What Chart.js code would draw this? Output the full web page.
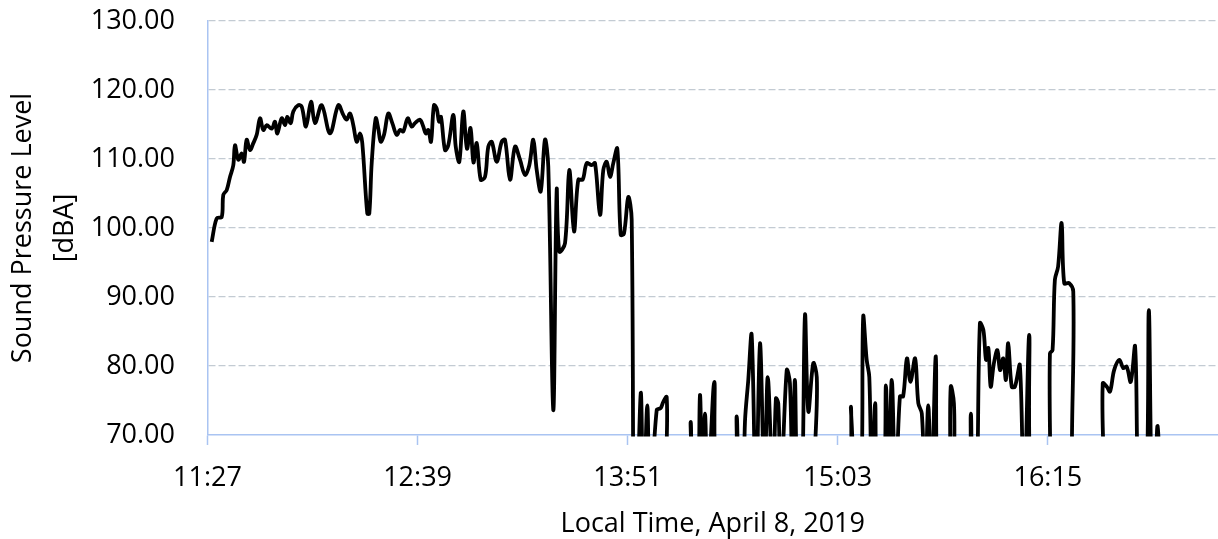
<!DOCTYPE html>
<html>
<head>
<meta charset="utf-8">
<script src="https://cdn.jsdelivr.net/npm/chart.js@4/dist/chart.umd.min.js"></script>
<style>
  html, body { margin: 0; padding: 0; background: #fff; }
  #wrap { width: 1218px; height: 539px; }
</style>
</head>
<body>
<div id="wrap"><canvas id="chart" width="1218" height="539"></canvas></div>
<script>
// minutes after 11:27
const minutes = [
  1.44, 3.15, 4.87, 5.41, 6.58, 7.71, 8.84, 9.42, 10.56, 11.72,
  12.51, 13.43, 14.56, 15.70, 16.86, 17.99, 19.12, 20.29, 22.00, 23.13,
  23.92, 25.43, 26.56, 27.35, 28.51, 29.40, 31.12, 32.28, 33.76, 35.47,
  36.84, 39.14, 41.98, 44.83, 46.54, 47.70, 48.84, 49.97, 51.13, 52.26,
  53.05, 54.76, 55.45, 56.27, 57.64, 58.53, 59.36, 60.49, 61.96, 63.33,
  64.84, 65.97, 67.10, 68.61, 69.98, 71.11, 72.82, 73.95, 74.78, 75.67,
  76.59, 77.62, 78.55, 79.34, 80.02, 81.39, 82.52, 84.24, 85.06, 86.29,
  87.66, 88.93, 90.13, 91.16, 92.26, 93.63, 95.10, 96.23, 97.40, 99.11,
  100.82, 101.95, 103.67, 105.38, 107.09, 108.81, 110.28, 111.65, 112.82, 114.19,
  115.66, 116.79, 118.50, 119.67, 120.56, 122.52, 123.99, 125.60, 127.07, 128.58,
  129.95, 131.67, 132.80, 134.51, 135.64, 136.81, 137.94, 139.07, 140.44, 141.60,
  142.73, 144.21, 145.37, 146.33, 148.46, 149.42, 150.72, 151.65, 153.94, 155.31,
  156.20, 157.37, 158.33, 164.67, 165.59, 166.38, 167.92, 168.78, 169.64, 170.49,
  171.45, 173.68, 174.78, 180.40, 181.36, 182.30, 183.60, 184.20, 185.33, 186.49,
  187.97, 189.34, 190.90, 192.00, 193.80, 194.80, 195.60, 196.50, 198.50, 199.60,
  200.50, 201.30, 202.20, 203.60, 204.76, 205.90, 207.60, 208.80, 209.60, 219.70,
  220.50, 221.40, 223.80, 224.70, 225.90, 226.80, 227.70, 228.80, 229.60, 231.70,
  232.50, 233.40, 234.50, 235.80, 237.30, 238.40, 239.70, 240.90, 242.50, 243.60,
  244.80, 245.90, 247.00, 248.10, 249.60, 250.50, 253.80, 254.70, 255.80, 256.70,
  260.60, 261.60, 262.30, 263.50, 264.70, 265.90, 266.80, 267.60, 268.40, 269.50,
  270.70, 271.60, 272.70, 273.60, 274.40, 275.60, 276.70, 278.40, 279.80, 281.60,
  282.50, 288.00, 288.70, 289.60, 290.40, 291.50, 292.70, 293.60, 295.30, 296.70,
  297.60, 306.00, 306.80, 308.20, 309.30, 310.70, 312.50, 313.80, 315.00, 316.40,
  317.90, 319.30, 321.60, 322.60, 323.70, 324.80, 325.60, 326.80, 328.00
];

// sound pressure level [dBA]; values under 70 fall off the bottom of the plot
const spl = [
  98.0, 101.4, 101.6, 104.8, 105.5, 107.4, 109.1, 112.0, 109.9, 110.8,
  109.6, 112.8, 111.3, 112.3, 113.5, 115.9, 114.2, 114.9, 114.4, 115.4,
  113.7, 115.9, 114.9, 116.1, 115.2, 116.9, 117.8, 117.6, 114.7, 118.3,
  115.2, 117.8, 113.7, 117.8, 116.4, 115.7, 116.6, 114.9, 112.5, 113.7,
  112.3, 102.1, 102.1, 109.4, 115.9, 114.4, 112.5, 113.5, 116.6, 115.2,
  113.5, 114.2, 114.0, 115.9, 114.7, 115.2, 115.7, 114.7, 113.7, 114.2,
  112.5, 117.8, 117.3, 115.4, 116.1, 111.3, 112.0, 116.4, 111.8, 109.6,
  116.9, 111.5, 114.5, 109.5, 112.3, 107.0, 107.4, 111.8, 112.5, 109.6,
  112.5, 112.8, 107.0, 111.8, 109.9, 107.7, 109.1, 112.8, 108.4, 105.3,
  112.8, 108.9, 73.6, 105.5, 96.6, 97.8, 108.4, 99.5, 107.0, 107.0,
  109.4, 109.1, 109.4, 101.9, 108.4, 109.6, 107.4, 109.4, 111.5, 99.0,
  99.2, 104.5, 101.2, 45.0, 76.0, 60.0, 74.3, 60.0, 73.6, 73.9,
  74.8, 75.5, 60.0, 60.0, 71.9, 60.0, 60.0, 75.8, 62.0, 73.1,
  62.0, 77.7, 62.0, 60.0, 72.7, 60.0, 62.0, 72.0, 78.0, 84.5,
  60.0, 83.3, 62.0, 78.4, 62.0, 75.3, 74.6, 62.0, 79.4, 77.5,
  62.0, 78.0, 62.0, 60.0, 87.4, 73.4, 80.4, 78.4, 60.0, 60.0,
  74.1, 60.0, 60.0, 87.1, 80.9, 78.4, 62.0, 74.6, 62.0, 62.0,
  77.2, 62.0, 78.0, 62.0, 75.6, 75.6, 81.1, 77.7, 81.1, 74.6,
  73.1, 62.0, 74.3, 62.0, 81.4, 60.0, 60.0, 77.0, 74.6, 60.0,
  60.0, 73.1, 60.0, 60.0, 86.2, 85.2, 80.9, 82.6, 77.0, 80.4,
  82.3, 79.4, 81.1, 78.0, 83.3, 77.0, 77.0, 80.1, 60.0, 84.5,
  60.0, 55.0, 81.8, 82.3, 92.5, 94.4, 100.7, 92.0, 92.0, 90.8,
  55.0, 55.0, 77.5, 77.0, 76.3, 79.4, 80.9, 79.7, 79.9, 77.7,
  82.8, 60.0, 60.0, 88.1, 60.0, 64.0, 71.3, 62.0, 60.0
];

const tickMinutes = [0, 72, 144, 216, 288];
const tickLabels = ['11:27', '12:39', '13:51', '15:03', '16:15'];
const yTitle = ['Sound Pressure Level', '[dBA]'];
const xTitle = 'Local Time, April 8, 2019';

const fontFamily = '"Open Sans", "Liberation Sans", sans-serif';
const axisBlue = '#aac4f2';

const points = minutes.map((m, i) => ({ x: m, y: spl[i] }));

new Chart(document.getElementById('chart').getContext('2d'), {
    type: 'line',
    data: {
        datasets: [{
            data: points,
            borderColor: '#000',
            borderWidth: 3.8,
            pointRadius: 0,
            tension: 0.35,
            fill: false,
            clip: { left: 0, top: 0, right: 0, bottom: 1.5 }
        }]
    },
    options: {
        responsive: false,
        animation: false,
        devicePixelRatio: 1,
        layout: { padding: { top: 21, right: 0, bottom: 0, left: 0 } },
        elements: { line: { capBezierPoints: false } },
        plugins: {
            legend: { display: false },
            tooltip: { enabled: false }
        },
        scales: {
            x: {
                type: 'linear',
                min: 0,
                max: 346.3,
                afterFit: function (scale) {
                    scale.height = 104;
                    scale.paddingLeft = 0;
                    scale.paddingRight = 0;
                },
                afterBuildTicks: function (scale) {
                    scale.ticks = tickMinutes.map(v => ({ value: v }));
                },
                ticks: {
                    autoSkip: false,
                    maxRotation: 0,
                    padding: 17,
                    color: '#000',
                    font: { family: fontFamily, size: 27 },
                    callback: function (value) {
                        return tickLabels[tickMinutes.indexOf(value)];
                    }
                },
                grid: {
                    drawOnChartArea: false,
                    drawTicks: true,
                    tickLength: 10,
                    tickColor: axisBlue,
                    tickWidth: 1.5,
                    color: axisBlue
                },
                border: { color: axisBlue, width: 1.5 },
                title: {
                    display: true,
                    text: xTitle,
                    color: '#000',
                    font: { family: fontFamily, size: 27, lineHeight: 1.1 },
                    padding: { top: 0, bottom: 0 }
                }
            },
            y: {
                min: 70,
                max: 130,
                afterFit: function (scale) {
                    scale.width = 207.5;
                    scale.paddingTop = 0;
                    scale.paddingBottom = 0;
                },
                ticks: {
                    stepSize: 10,
                    padding: 32.5,
                    color: '#000',
                    font: { family: fontFamily, size: 27 },
                    callback: v => v.toFixed(2)
                },
                grid: {
                    drawTicks: false,
                    lineWidth: 1.3,
                    color: ctx => (ctx.tick && ctx.tick.value === 70) ? 'rgba(0,0,0,0)' : '#c3cbd3'
                },
                border: { color: axisBlue, width: 1.5, dash: [7, 3] },
                title: {
                    display: true,
                    text: yTitle,
                    color: '#000',
                    font: { family: fontFamily, size: 27, lineHeight: 1.556 },
                    padding: { top: 2, bottom: 0 }
                }
            }
        }
    }
});
</script>
</body>
</html>
